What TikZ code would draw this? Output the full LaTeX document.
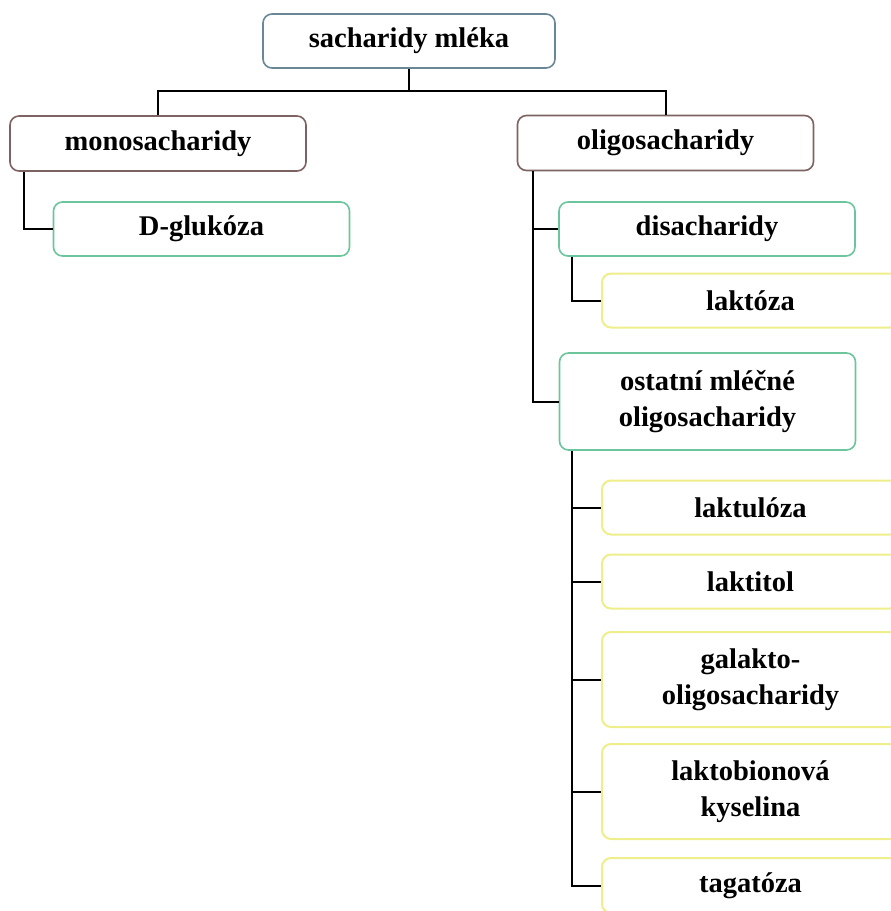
\documentclass[tikz,border=0pt]{standalone}
\usepackage{fontspec}
\setmainfont{Liberation Serif}
\usepackage{xcolor}
\usepackage{tikz}
\usetikzlibrary{positioning}

\definecolor{rootline}{HTML}{6A8796}
\definecolor{catline}{HTML}{7D6262}
\definecolor{subline}{HTML}{6CC59D}
\definecolor{leafline}{HTML}{EEEE8A}

\begin{document}
\begin{tikzpicture}[x=1pt, y=-1pt,
  every node/.style={draw, rounded corners=9pt, fill=white, line width=1.6pt, align=center,
    inner sep=0pt, font=\bfseries\fontsize{28.5}{36}\selectfont},
  rootbox/.style={draw=rootline, minimum width=292pt, minimum height=54pt},
  catbox/.style={draw=catline, minimum width=296pt, minimum height=55pt},
  subbox/.style={draw=subline, minimum width=296pt, minimum height=54pt},
  leafbox/.style={draw=leafline, line width=2pt, minimum width=297pt, minimum height=54pt},
  link/.style={line width=2pt, black}]
\useasboundingbox (0,0) rectangle (891,911);
\clip (0,0) rectangle (891,911);
% connectors first, boxes on top
\coordinate (bus) at (409,91);
\node[rootbox] (root) at (409,41) {sacharidy mléka};
\node[catbox] (mono) at (158,143.5) {monosacharidy};
\node[catbox] (oligo) at (665.5,143) {oligosacharidy};
\node[subbox] (gluk) at (201.5,229) {D-glukóza};
\node[subbox] (disach) at (707,229) {disacharidy};
\node[leafbox] (laktoza) at (750.5,300.5) {laktóza};
\node[subbox, minimum height=97pt] (ostatni) at (707.5,401.5) {ostatní mléčné\\oligosacharidy};
\node[leafbox] (laktuloza) at (750.5,507.5) {laktulóza};
\node[leafbox] (laktitol) at (750.5,581.5) {laktitol};
\node[leafbox, minimum height=95pt] (galakto) at (750.5,679.5) {galakto-\\oligosacharidy};
\node[leafbox, minimum height=95pt] (bion) at (750.5,791.5) {laktobionová\\kyselina};
\node[leafbox, minimum height=55pt] (tagatoza) at (750.5,885.5) {tagatóza};
% connectors
\draw[link] (root.south) -- (bus);
\draw[link] (mono.north) |- (bus) -| (oligo.north);
\draw[link] ([xshift=15pt]mono.south west) |- (gluk.west);
\draw[link] ([xshift=16pt]oligo.south west) |- (ostatni.west);
\draw[link] ([xshift=16pt]oligo.south west |- disach.west) -- (disach.west);
\draw[link] ([xshift=14pt]disach.south west) |- (laktoza.west);
\draw[link] ([xshift=13pt]ostatni.south west) |- (tagatoza.west);
\foreach \leaf in {laktuloza,laktitol,galakto,bion}
  \draw[link] ([xshift=13pt]ostatni.south west |- \leaf.west) -- (\leaf.west);
\end{tikzpicture}
\end{document}
